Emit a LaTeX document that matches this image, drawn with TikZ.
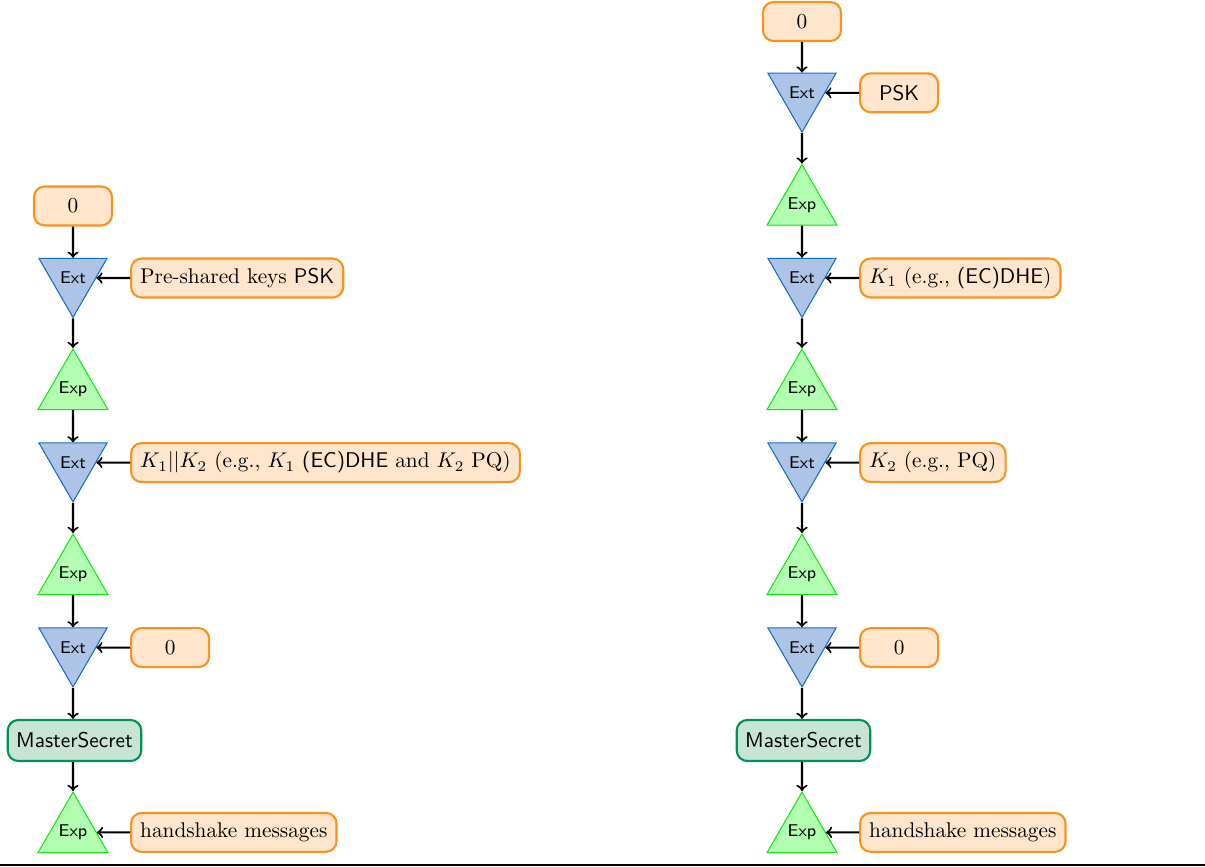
\documentclass[tikz,border=0pt]{standalone}
\usetikzlibrary{shapes.geometric}
\definecolor{boxfill}{RGB}{255,229,204}
\definecolor{boxborder}{RGB}{247,148,30}
\definecolor{extfill}{RGB}{174,196,230}
\definecolor{extborder}{RGB}{20,110,200}
\definecolor{expfill}{RGB}{178,255,178}
\definecolor{expborder}{RGB}{20,230,20}
\definecolor{msfill}{RGB}{200,228,212}
\definecolor{msborder}{RGB}{0,145,85}
\tikzset{
  inbox/.style={draw=boxborder, fill=boxfill, rounded corners=5pt, line width=1pt,
    minimum height=18.3pt, minimum width=36.7pt, inner xsep=4.3pt},
  sidebox/.style={inbox, anchor=west},
  extnode/.style={regular polygon, regular polygon sides=3, shape border rotate=180,
    draw=extborder, fill=extfill, minimum size=37pt, inner sep=0pt,
    font=\sffamily\footnotesize, line width=0.5pt},
  expnode/.style={regular polygon, regular polygon sides=3,
    draw=expborder, fill=expfill, minimum size=37pt, inner sep=0pt,
    font=\sffamily\footnotesize, line width=0.5pt},
  msnode/.style={draw=msborder, fill=msfill, rounded corners=5pt, line width=1pt,
    minimum height=19.3pt, inner xsep=4pt, font=\sffamily},
  arr/.style={->, line width=0.95pt}
}
\begin{document}
\begin{tikzpicture}[x=0.47pt,y=-0.47pt]
\useasboundingbox (0,0) rectangle (1205,867);
% ---------- left column ----------
\node[inbox] (lz) at (73,206) {0};
\node[extnode] (lext1) at (73,278) {Ext};
\node[sidebox] (lpsk) at (130,278) {Pre-shared keys \textsf{PSK}};
\node[expnode] (lexp1) at (73,389.4) {Exp};
\node[extnode] (lext2) at (73,462.6) {Ext};
\node[sidebox] (lk) at (130,462.6) {$K_1||K_2$ (e.g., $K_1$ \textsf{(EC)DHE} and $K_2$ PQ)};
\node[expnode] (lexp2) at (73,574.4) {Exp};
\node[extnode] (lext3) at (73,647.6) {Ext};
\node[sidebox] (lz2) at (130,647.6) {0};
\node[msnode] (lms) at (74.5,740.5) {MasterSecret};
\node[expnode] (lexp3) at (73,832.4) {Exp};
\node[sidebox] (lhs) at (130,832.4) {handshake messages};
\draw[arr] (lz) -- (lext1);
\draw[arr] (lpsk) -- (lext1);
\draw[arr] (lext1) -- (lexp1);
\draw[arr] (lexp1) -- (lext2);
\draw[arr] (lk) -- (lext2);
\draw[arr] (lext2) -- (lexp2);
\draw[arr] (lexp2) -- (lext3);
\draw[arr] (lz2) -- (lext3);
\draw[arr] (lext3) -- (lext3.south |- lms.north);
\draw[arr] (lms.south -| lexp3) -- (lexp3);
\draw[arr] (lhs) -- (lexp3);
% ---------- right column ----------
\node[inbox] (rz) at (802,21.5) {0};
\node[extnode] (rext0) at (802,92.8) {Ext};
\node[sidebox] (rpsk) at (859,92.8) {\textsf{PSK}};
\node[expnode] (rexp0) at (802,205) {Exp};
\node[extnode] (rext1) at (802,278) {Ext};
\node[sidebox] (rk1) at (859,278) {$K_1$ (e.g., \textsf{(EC)DHE})};
\node[expnode] (rexp1) at (802,389.4) {Exp};
\node[extnode] (rext2) at (802,462.6) {Ext};
\node[sidebox] (rk2) at (859,462.6) {$K_2$ (e.g., PQ)};
\node[expnode] (rexp2) at (802,574.4) {Exp};
\node[extnode] (rext3) at (802,647.6) {Ext};
\node[sidebox] (rz2) at (859,647.6) {0};
\node[msnode] (rms) at (803.5,740.5) {MasterSecret};
\node[expnode] (rexp3) at (802,832.4) {Exp};
\node[sidebox] (rhs) at (859,832.4) {handshake messages};
\draw[arr] (rz) -- (rext0);
\draw[arr] (rpsk) -- (rext0);
\draw[arr] (rext0) -- (rexp0);
\draw[arr] (rexp0) -- (rext1);
\draw[arr] (rk1) -- (rext1);
\draw[arr] (rext1) -- (rexp1);
\draw[arr] (rexp1) -- (rext2);
\draw[arr] (rk2) -- (rext2);
\draw[arr] (rext2) -- (rexp2);
\draw[arr] (rexp2) -- (rext3);
\draw[arr] (rz2) -- (rext3);
\draw[arr] (rext3) -- (rext3.south |- rms.north);
\draw[arr] (rms.south -| rexp3) -- (rexp3);
\draw[arr] (rhs) -- (rexp3);
% bottom rule
\coordinate (bl) at (0,865);
\coordinate (br) at (1205,865);
\draw[line width=0.8pt] (bl) -- (br);
\end{tikzpicture}
\end{document}
